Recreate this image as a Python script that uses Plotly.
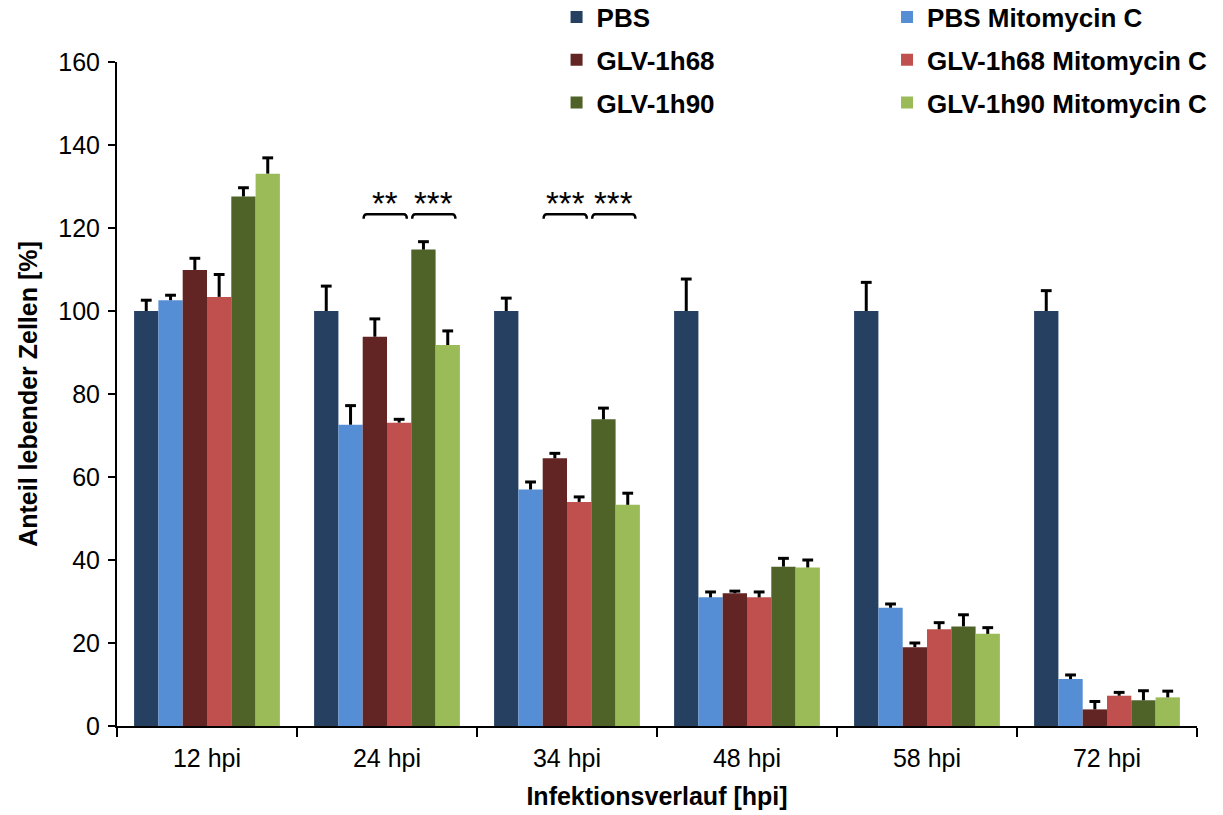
import plotly.graph_objects as go

# Viability of cells over the course of infection (mean + upper SD)
categories = ["12 hpi", "24 hpi", "34 hpi", "48 hpi", "58 hpi", "72 hpi"]

series_names = [
    "PBS", "PBS Mitomycin C",
    "GLV-1h68", "GLV-1h68 Mitomycin C",
    "GLV-1h90", "GLV-1h90 Mitomycin C",
]

pbs = [100.0, 100.0, 100.0, 100.0, 100.0, 100.0]
pbs_err = [2.6, 6.0, 3.1, 7.7, 6.9, 4.9]

pbs_mmc = [102.6, 72.6, 57.0, 31.0, 28.5, 11.3]
pbs_mmc_err = [1.2, 4.6, 1.8, 1.3, 0.9, 1.0]

glv68 = [109.9, 93.8, 64.5, 32.0, 19.0, 4.0]
glv68_err = [2.8, 4.3, 1.2, 0.5, 1.0, 1.9]

glv68_mmc = [103.4, 73.1, 54.0, 31.0, 23.3, 7.3]
glv68_mmc_err = [5.4, 0.8, 1.2, 1.3, 1.6, 0.8]

glv90 = [127.6, 114.8, 73.9, 38.4, 24.0, 6.2]
glv90_err = [2.1, 1.9, 2.7, 2.0, 2.8, 2.3]

glv90_mmc = [133.1, 91.8, 53.3, 38.2, 22.2, 6.9]
glv90_mmc_err = [3.8, 3.4, 2.8, 1.8, 1.5, 1.5]

y_ticks = [0, 20, 40, 60, 80, 100, 120, 140, 160]

# significance brackets: (category index, first bar, second bar, label)
significance = [
    (1, 2, 3, "**"),
    (1, 4, 5, "***"),
    (2, 2, 3, "***"),
    (2, 4, 5, "***"),
]

values = [pbs, pbs_mmc, glv68, glv68_mmc, glv90, glv90_mmc]
errors = [pbs_err, pbs_mmc_err, glv68_err, glv68_mmc_err, glv90_err, glv90_mmc_err]
colors = ["#254061", "#558ED5", "#632523", "#C0504D", "#4F6228", "#9BBB59"]

FONT = "Liberation Sans, Arial, sans-serif"
n = len(series_names)
bargap = 0.19
bw = (1 - bargap) / n
x_idx = list(range(len(categories)))


def bar_center(cat, k):
    return cat + (k - (n - 1) / 2) * bw


fig = go.Figure()

for k, (name, vals, col) in enumerate(zip(series_names, values, colors)):
    fig.add_trace(go.Bar(
        x=x_idx, y=vals, name=name,
        marker=dict(color=col, line=dict(width=0)),
        legend="legend" if k % 2 == 0 else "legend2",
        legendgroup=name,
    ))

# upper error bars drawn as T-shaped lines on top of each bar
cap = 0.03
for k, (vals, errs) in enumerate(zip(values, errors)):
    ex, ey = [], []
    for c, (v, e) in enumerate(zip(vals, errs)):
        xc = bar_center(c, k)
        ex += [xc, xc, None, xc - cap, xc + cap, None]
        ey += [v, v + e, None, v + e, v + e, None]
    fig.add_trace(go.Scatter(
        x=ex, y=ey, mode="lines",
        line=dict(color="black", width=3),
        showlegend=False, hoverinfo="skip",
    ))

# significance brackets with star labels
y_top, y_hook = 123.3, 122.2
for c, a, b, label in significance:
    x0 = bar_center(c, a) - bw / 2 + 0.005
    x1 = bar_center(c, b) + bw / 2 - 0.025
    d = 0.018
    path = (f"M {x0},{y_hook} Q {x0},{y_top} {x0 + d},{y_top} "
            f"L {x1 - d},{y_top} Q {x1},{y_top} {x1},{y_hook}")
    fig.add_shape(type="path", path=path, xref="x", yref="y",
                  line=dict(color="black", width=2.5))
    fig.add_annotation(x=(x0 + x1) / 2, y=y_top, xref="x", yref="y",
                       text=label, showarrow=False, yanchor="bottom",
                       yshift=-10,
                       font=dict(family=FONT, size=33, color="black"))

legend_common = dict(
    font=dict(family=FONT, size=26, color="black", weight="bold"),
    bgcolor="rgba(0,0,0,0)", orientation="v",
    xanchor="left", yanchor="top",
    itemwidth=30, tracegroupgap=6, itemclick=False, itemdoubleclick=False,
)

fig.update_layout(
    width=1223, height=815,
    margin=dict(l=117, r=26, t=62, b=89, autoexpand=False),
    paper_bgcolor="white", plot_bgcolor="white",
    barmode="group", bargap=bargap, bargroupgap=0,
    font=dict(family=FONT, color="black"),
    showlegend=True,
    legend=dict(x=0.407, y=1.103, **legend_common),
    legend2=dict(x=0.713, y=1.103, **legend_common),
    xaxis=dict(
        range=[-0.5, len(categories) - 0.5],
        tickmode="array", tickvals=x_idx, ticktext=categories,
        ticks="", ticklabelstandoff=9,
        tickfont=dict(family=FONT, size=25, color="black"),
        minor=dict(tickmode="array",
                   tickvals=[i - 0.5 for i in range(len(categories) + 1)],
                   ticks="outside", ticklen=9, tickwidth=2, tickcolor="black"),
        showline=True, linecolor="black", linewidth=2,
        showgrid=False, zeroline=False,
        title=dict(text="Infektionsverlauf [hpi]", standoff=16,
                   font=dict(family=FONT, size=25, color="black", weight="bold")),
    ),
    yaxis=dict(
        range=[0, 160], tickmode="array", tickvals=y_ticks,
        ticks="outside", ticklen=7, tickwidth=2, tickcolor="black",
        ticklabelstandoff=3,
        tickfont=dict(family=FONT, size=25, color="black"),
        showline=True, linecolor="black", linewidth=2,
        showgrid=False, zeroline=False,
        title=dict(text="Anteil lebender Zellen [%]", standoff=14,
                   font=dict(family=FONT, size=25, color="black", weight="bold")),
    ),
)

fig.write_html("out.html")
